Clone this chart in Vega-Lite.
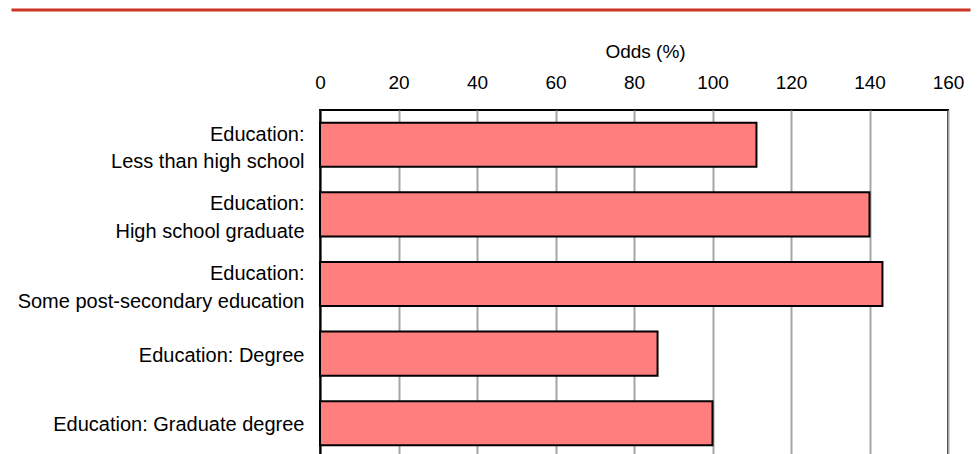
{
  "$schema": "https://vega.github.io/schema/vega-lite/v6.json",
  "width": 628,
  "height": 348,
  "autosize": "none",
  "padding": {"left": 320, "top": 110, "right": 29, "bottom": 0},
  "background": "white",
  "config": {
    "view": {"stroke": "black", "strokeWidth": 2},
    "font": "Liberation Sans"
  },
  "data": {
    "values": [
      {"group": "Education:\u00a0|Less than high school", "odds": 111.2},
      {"group": "Education:\u00a0|High school graduate", "odds": 140.0},
      {"group": "Education:\u00a0|Some post-secondary education", "odds": 143.3},
      {"group": "Education: Degree", "odds": 86.0},
      {"group": "Education: Graduate degree", "odds": 100.0}
    ]
  },
  "layer": [
    {
      "mark": {"type": "bar", "fill": "#ff7f7f", "stroke": "black", "strokeWidth": 2},
      "encoding": {
        "y": {
          "field": "group",
          "type": "nominal",
          "sort": null,
          "scale": {"paddingInner": 0.367, "paddingOuter": 0.183},
          "axis": {
            "title": null,
            "labelExpr": "split(datum.label, '|')",
            "labelFont": "Liberation Sans",
            "labelFontSize": 20,
            "labelColor": "black",
            "labelLineHeight": 27.6,
            "labelPadding": 16,
            "labelOffset": {"condition": {"test": "indexof(datum.label, '|') >= 0", "value": -10}, "value": 2},
            "labelLimit": 400,
            "ticks": false,
            "domain": true,
            "domainColor": "black",
            "domainWidth": 2
          }
        },
        "x": {
          "field": "odds",
          "type": "quantitative",
          "scale": {"domain": [0, 160], "nice": false},
          "axis": {
            "orient": "top",
            "title": "Odds (%)",
            "titleFont": "Liberation Sans",
            "titleFontSize": 19,
            "titleFontWeight": "normal",
            "titleColor": "black",
            "titlePadding": 12,
            "titleX": 325,
            "values": [0, 20, 40, 60, 80, 100, 120, 140, 160],
            "labelFont": "Liberation Sans",
            "labelFontSize": 19,
            "labelColor": "black",
            "labelPadding": 18,
            "labelFlush": false,
            "ticks": false,
            "domain": false,
            "grid": true,
            "gridColor": "#a6a6a6",
            "gridWidth": 2
          }
        }
      }
    },
    {
      "mark": {"type": "bar", "opacity": 0},
      "encoding": {
        "y": {"field": "group", "type": "nominal", "sort": null},
        "x": {
          "field": "odds",
          "type": "quantitative",
          "scale": {"range": [-309, 650]},
          "axis": {
            "orient": "top",
            "offset": 100.5,
            "domain": true,
            "domainColor": "#cc3322",
            "domainWidth": 3,
            "labels": false,
            "ticks": false,
            "grid": false,
            "title": null
          }
        }
      }
    }
  ],
  "resolve": {"scale": {"x": "independent"}, "axis": {"x": "independent"}}
}
